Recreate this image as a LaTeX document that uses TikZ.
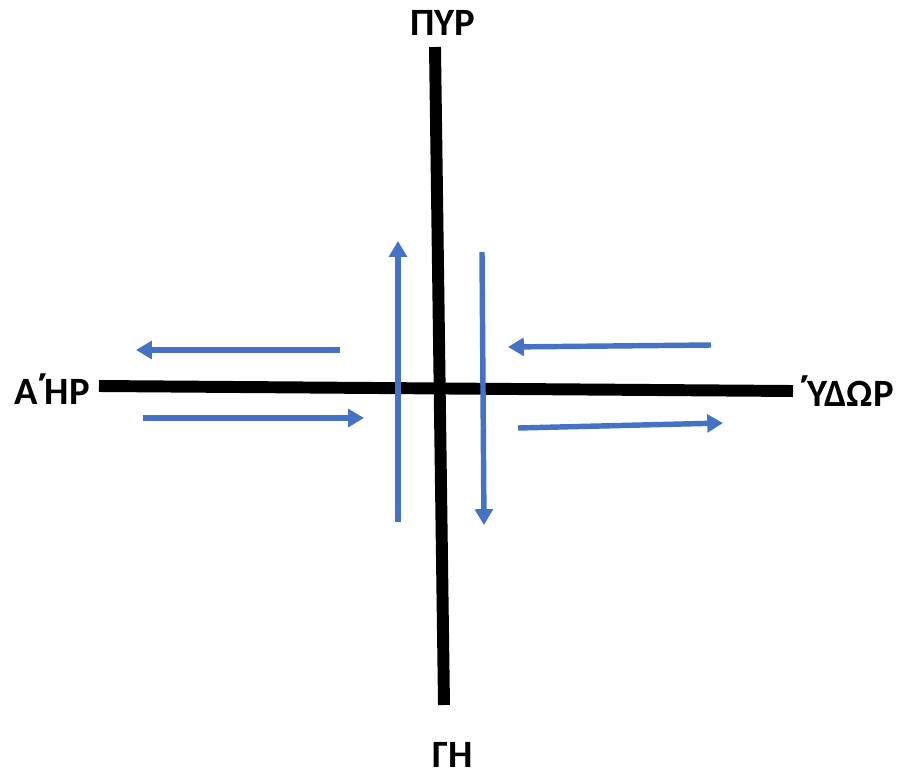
\documentclass[tikz,border=0pt]{standalone}
\usepackage{fontspec}
\setmainfont{Carlito}
\newfontfamily\tonosfont{Open Sans}
\usetikzlibrary{arrows.meta}
\definecolor{flowblue}{HTML}{4472C4}
\newcommand{\tonosmark}{\hbox to 0.18em{\hss\tonosfont\bfseries\char"0384\hss}}
\tikzstyle{element} = [font=\fontsize{22}{25}\selectfont\bfseries, inner sep=0pt, text=black]
\tikzstyle{axis} = [line width=6.8pt, black]
\tikzstyle{flow} = [line width=3.1pt, flowblue, -{Triangle[length=9pt, width=10pt]}]

\begin{document}
\begin{tikzpicture}[x=0.02cm, y=-0.02cm]
            \useasboundingbox (0,0) rectangle (897,778);

            % Nodes
            \node (fire) [element] at (443,23) {ΠΥΡ};
            \node (earth) [element] at (453,755) {ΓΗ};
            \node (air) [element, anchor=west] at (14,389) {Α\tonosmark ΗΡ};
            \node (water) [element, anchor=east] at (894,391) {\tonosmark ΥΔΩΡ};

            \coordinate (top) at (435,47);
            \coordinate (bottom) at (444,705);
            \coordinate (left) at (99,386);
            \coordinate (right) at (793,391);

            \coordinate (a1) at (340,350); \coordinate (a2) at (136,350);
            \coordinate (b1) at (143,418); \coordinate (b2) at (364,418);
            \coordinate (c1) at (398,522); \coordinate (c2) at (398,241);
            \coordinate (d1) at (482,252); \coordinate (d2) at (484,525);
            \coordinate (e1) at (711,345); \coordinate (e2) at (508,347);
            \coordinate (f1) at (518,428); \coordinate (f2) at (723,423);

            % Axes
            \draw [axis] (top) -- (bottom);
            \draw [axis] (left) -- (right);

            % Arrows
            \draw [flow] (a1) -- (a2);
            \draw [flow] (b1) -- (b2);
            \draw [flow] (c1) -- (c2);
            \draw [flow] (d1) -- (d2);
            \draw [flow] (e1) -- (e2);
            \draw [flow] (f1) -- (f2);
\end{tikzpicture}
\end{document}
